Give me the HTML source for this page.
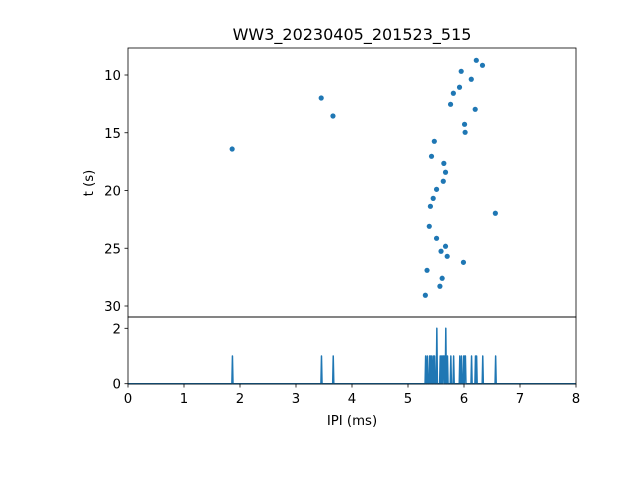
<!DOCTYPE html>
<html><head><meta charset="utf-8"><style>
body{margin:0;background:#fff}
svg{display:block;font-family:"DejaVu Sans","Liberation Sans",sans-serif}
</style></head><body>
<svg id="chart" width="640" height="480" viewBox="0 0 640 480">
<rect width="640" height="480" fill="#fff"/>
<text x="352" y="40" font-size="16" text-anchor="middle">WW3_20230405_201523_515</text>
<g id="topAxes"></g>
<g id="botAxes"></g>
<text x="352" y="425" font-size="13.3" text-anchor="middle">IPI (ms)</text>
<text transform="translate(93,183) rotate(-90)" font-size="13.3" text-anchor="middle">t (s)</text>
</svg>
<script>
const ipi = [6.22,6.33,5.95,6.13,5.92,5.81,5.76,6.20,6.01,6.02,5.47,5.42,5.64,5.67,5.63,5.51,5.45,5.40,6.56,5.38,5.51,5.67,5.59,5.70,5.99,5.34,5.61,5.57,5.31,1.86,3.45,3.66];
const times = [8.73,9.16,9.68,10.37,11.06,11.58,12.54,12.97,14.27,14.96,15.74,17.04,17.65,18.42,19.20,19.90,20.68,21.37,21.97,23.10,24.14,24.83,25.26,25.70,26.22,26.91,27.60,28.29,29.07,16.41,11.99,13.55];
const xTicks = [0,1,2,3,4,5,6,7,8];
const tTicks = [10,15,20,25,30];
const cTicks = [0,2];
const binWidth = 0.01;

const NS="http://www.w3.org/2000/svg";
const L=128,R=576,T=48,MID=317,B=384;
const xs=v=>L+(v-0)/(8-0)*(R-L);
const ys=t=>75+(t-10)*(306-75)/20;
const yc=c=>383.7-c*(383.7-328.3)/2;
function mk(tag,attrs,parent){const e=document.createElementNS(NS,tag);for(const k in attrs)e.setAttribute(k,attrs[k]);parent.appendChild(e);return e;}
const gTop=document.getElementById('topAxes'), gBot=document.getElementById('botAxes');

ipi.forEach((v,i)=>{
  const c=mk('circle',{cx:xs(v),cy:ys(times[i]),r:2.6,fill:'#1f77b4'},gTop);
  
  
});
tTicks.forEach(t=>{
  const y=ys(t);
  const l=mk('line',{x1:L-3.5,x2:L,y1:y,y2:y,stroke:'#000','stroke-width':0.8},gTop);
  
  
  const tx=mk('text',{x:L-7,y:y+5,'font-size':13.3,'text-anchor':'end'},gTop);
  tx.textContent=t;
  
  
});
const f1=mk('rect',{x:L,y:T,width:R-L,height:MID-T,fill:'none',stroke:'#000','stroke-width':0.8},gTop);



const nb=Math.round(8/binWidth);
const counts=new Array(nb).fill(0);
ipi.forEach(v=>{const b=Math.floor(v/binWidth+1e-9);if(b>=0&&b<nb)counts[b]++;});
let pts=[];
counts.forEach((c,i)=>{pts.push(xs((i+0.5)*binWidth).toFixed(2)+','+yc(c).toFixed(2));});
const pl=mk('polyline',{points:pts.join(' '),fill:'none',stroke:'#1f77b4','stroke-width':1.5,'stroke-linejoin':'round'},gBot);


cTicks.forEach(c=>{
  const y=yc(c);
  const l=mk('line',{x1:L-3.5,x2:L,y1:y,y2:y,stroke:'#000','stroke-width':0.8},gBot);
  
  
  const tx=mk('text',{x:L-7,y:y+5,'font-size':13.3,'text-anchor':'end'},gBot);
  tx.textContent=c;
  
  
});
xTicks.forEach(v=>{
  const x=xs(v);
  const l=mk('line',{x1:x,x2:x,y1:B,y2:B+3.5,stroke:'#000','stroke-width':0.8},gBot);
  
  
  const tx=mk('text',{x:x,y:B+19,'font-size':13.3,'text-anchor':'middle'},gBot);
  tx.textContent=v;
  
  
});
const f2=mk('rect',{x:L,y:MID,width:R-L,height:B-MID,fill:'none',stroke:'#000','stroke-width':0.8},gBot);


</script>
</body></html>
